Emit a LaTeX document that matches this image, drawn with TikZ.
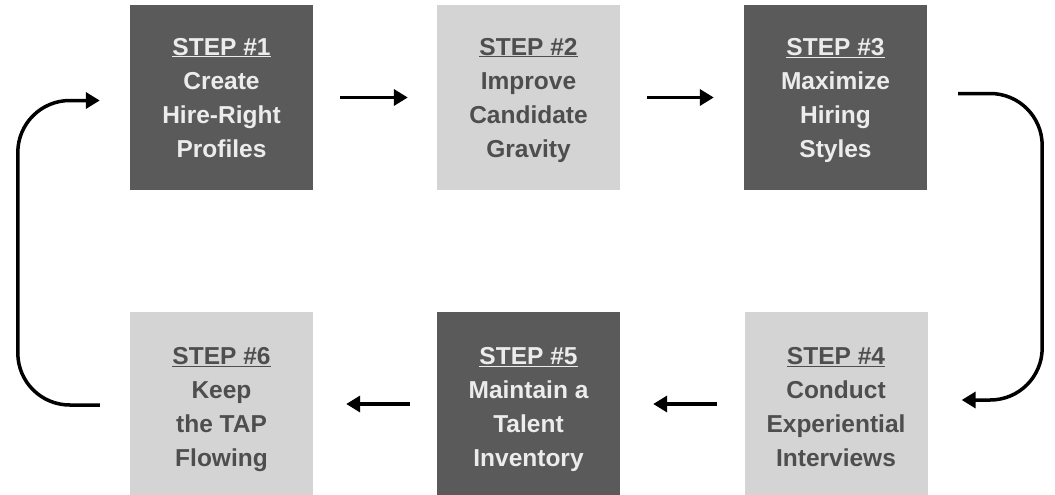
\documentclass[tikz,border=0pt]{standalone}
\usepackage{fontspec}
\setmainfont{Liberation Sans}
\usetikzlibrary{arrows.meta}
\definecolor{darkbox}{HTML}{5A5A5A}
\definecolor{lightbox}{HTML}{D4D4D4}
\definecolor{darktext}{HTML}{ECECEC}
\definecolor{lighttext}{HTML}{4E4E4E}
\begin{document}
\begin{tikzpicture}[x=1pt,y=-1pt,
  box/.style={rectangle, minimum width=183pt, minimum height=185pt, inner sep=0pt,
    text depth=0pt, align=center, font=\fontsize{24.5}{34}\selectfont\bfseries},
  lowbox/.style={minimum height=191pt},
  darkstep/.style={box, fill=darkbox, text=darktext},
  lightstep/.style={box, fill=lightbox, text=lighttext},
  flow/.style={line width=3.5pt, -{Triangle[length=14pt,width=16pt]}},
  loop/.style={line width=3.5pt, rounded corners=52pt, -{Triangle[length=14pt,width=16pt]}}
]
\useasboundingbox (0,0) rectangle (1055,495);
\node[darkstep]  (s1) at (221.5,97.5) {\underline{STEP \#1}\\Create\\Hire-Right\\Profiles};
\node[lightstep] (s2) at (528.5,97.5) {\underline{STEP \#2}\\Improve\\Candidate\\Gravity};
\node[darkstep]  (s3) at (835.5,97.5) {\underline{STEP \#3}\\Maximize\\Hiring\\Styles};
\node[lightstep,lowbox] (s4) at (836,407) {\underline{STEP \#4}\\Conduct\\Experiential\\Interviews};
\node[darkstep,lowbox]  (s5) at (528.5,407) {\underline{STEP \#5}\\Maintain a\\Talent\\Inventory};
\node[lightstep,lowbox] (s6) at (221.5,407) {\underline{STEP \#6}\\Keep\\the TAP\\Flowing};

\draw[flow, shorten <=27pt, shorten >=29pt] (s1.east) -- (s2.west);
\draw[flow, shorten <=27pt, shorten >=30pt] (s2.east) -- (s3.west);
\draw[flow, shorten <=27pt, shorten >=33pt] ([yshift=3pt]s4.west) -- ([yshift=3pt]s5.east);
\draw[flow, shorten <=27pt, shorten >=33pt] ([yshift=3pt]s5.west) -- ([yshift=3pt]s6.east);

\coordinate (r1) at ([xshift=31pt,yshift=4pt]s3.east);
\coordinate (r2) at ([xshift=34pt,yshift=7pt]s4.east);
\draw[loop] (r1) -- ++(84,0) |- (r2);
\coordinate (l1) at ([xshift=-30pt,yshift=2pt]s6.west);
\coordinate (l2) at ([xshift=-30pt,yshift=-3pt]s1.west);
\draw[loop] (l1) -- ++(-82,0) |- (l2);
\end{tikzpicture}
\end{document}
